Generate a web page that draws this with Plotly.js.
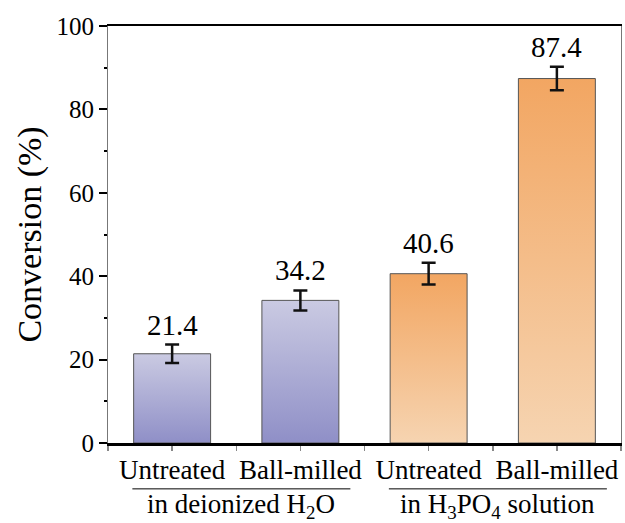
<!DOCTYPE html>
<html>
<head>
<meta charset="utf-8">
<script src="https://cdn.plot.ly/plotly-3.0.1.min.js"></script>
<style>html,body{margin:0;padding:0;background:#fff;}#chart{width:625px;height:523px;}</style>
</head>
<body>
<div id="chart"></div>
<script>
// ---- data ----
const treatments = ["Untreated", "Ball-milled", "Untreated", "Ball-milled"];
const groups = ["in deionized H<sub>2</sub>O", "in deionized H<sub>2</sub>O",
                "in H<sub>3</sub>PO<sub>4</sub> solution", "in H<sub>3</sub>PO<sub>4</sub> solution"];
const conversion = [21.4, 34.2, 40.6, 87.4];
const errors = [2.2, 2.4, 2.6, 2.8];
const yTicks = [0, 20, 40, 60, 80, 100];

// ---- styles ----
const FONT = "Liberation Serif";
const groupNames = [...new Set(groups)];
const gradStops = [
  ["#cacae2", "#8f8fc7"],   // blue group: top -> bottom
  ["#f2a662", "#f6d4b1"]    // orange group: top -> bottom
];
const baseColors = ["#b0b0d4", "#f4bd8c"];

const idx = conversion.map((_, i) => i);
const groupIdx = groups.map(g => groupNames.indexOf(g));

const trace = {
  type: "bar",
  x: idx,
  y: conversion,
  width: 0.6,
  marker: {
    color: groupIdx.map(g => baseColors[g]),
    line: { color: "#555", width: 1 }
  },
  error_y: { type: "data", array: errors, visible: true, color: "#111", thickness: 2.5, width: 7 },
  hoverinfo: "none"
};

const annotations = conversion.map((v, i) => ({
  x: i, y: v + errors[i], xref: "x", yref: "y",
  text: v.toFixed(1), showarrow: false, yanchor: "bottom", yshift: 2,
  font: { family: FONT, size: 29, color: "#000" }
}));

const shapes = [];
groupNames.forEach(g => {
  const members = idx.filter(i => groups[i] === g);
  const lo = Math.min(...members), hi = Math.max(...members);
  const x0 = lo - 0.31, x1 = hi + 0.39;
  shapes.push({ type: "line", xref: "x", yref: "paper", x0: x0, x1: x1, y0: -0.11, y1: -0.11,
                line: { color: "#000", width: 1 } });
  annotations.push({
    x: (x0 + x1) / 2, y: -0.152, xref: "x", yref: "paper", text: g, showarrow: false,
    yanchor: "middle", font: { family: FONT, size: 27, color: "#000" }
  });
});

const layout = {
  width: 625, height: 523,
  margin: { l: 108, r: 4, t: 26, b: 80 },
  paper_bgcolor: "#fff", plot_bgcolor: "#fff",
  showlegend: false,
  font: { family: FONT, color: "#000" },
  xaxis: {
    type: "linear", range: [-0.5, 3.5],
    tickvals: idx, ticktext: treatments,
    ticks: "outside", ticklen: 5, tickwidth: 1.5, tickcolor: "#888",
    minor: { ticks: "outside", tick0: 0.5, dtick: 1, ticklen: 5, tickwidth: 1.5, tickcolor: "#888" },
    ticklabelstandoff: -4,
    showline: true, linecolor: "#000", linewidth: 2.5, mirror: true,
    showgrid: false, zeroline: false,
    tickfont: { family: FONT, size: 27, color: "#000" }
  },
  yaxis: {
    range: [0, 100], tickvals: yTicks,
    ticks: "outside", ticklen: 8, tickwidth: 2, tickcolor: "#000",
    minor: { ticks: "outside", dtick: 10, ticklen: 3, tickwidth: 2, tickcolor: "#000" },
    showline: true, linecolor: "#777", linewidth: 1, mirror: true,
    showgrid: false, zeroline: false,
    tickfont: { family: FONT, size: 25, color: "#000" },
    title: { text: "Conversion (%)", font: { family: FONT, size: 34, color: "#000" }, standoff: 4 }
  },
  annotations: annotations,
  shapes: shapes
};

Plotly.newPlot("chart", [trace], layout, { staticPlot: true, displayModeBar: false }).then(gd => {
  const NS = "http://www.w3.org/2000/svg";
  const svg = gd.querySelector("svg.main-svg");
  let defs = svg.querySelector("defs");
  if (!defs) { defs = document.createElementNS(NS, "defs"); svg.insertBefore(defs, svg.firstChild); }
  gradStops.forEach((stops, k) => {
    const lg = document.createElementNS(NS, "linearGradient");
    lg.setAttribute("id", "barGrad" + k);
    lg.setAttribute("x1", "0"); lg.setAttribute("y1", "0");
    lg.setAttribute("x2", "0"); lg.setAttribute("y2", "1");
    stops.forEach((c, j) => {
      const s = document.createElementNS(NS, "stop");
      s.setAttribute("offset", j === 0 ? "0" : "1");
      s.setAttribute("stop-color", c);
      lg.appendChild(s);
    });
    defs.appendChild(lg);
  });
  const paths = gd.querySelectorAll(".barlayer .point path");
  paths.forEach((p, i) => { p.style.fill = "url(#barGrad" + groupIdx[i] + ")"; });
});
</script>
</body>
</html>
